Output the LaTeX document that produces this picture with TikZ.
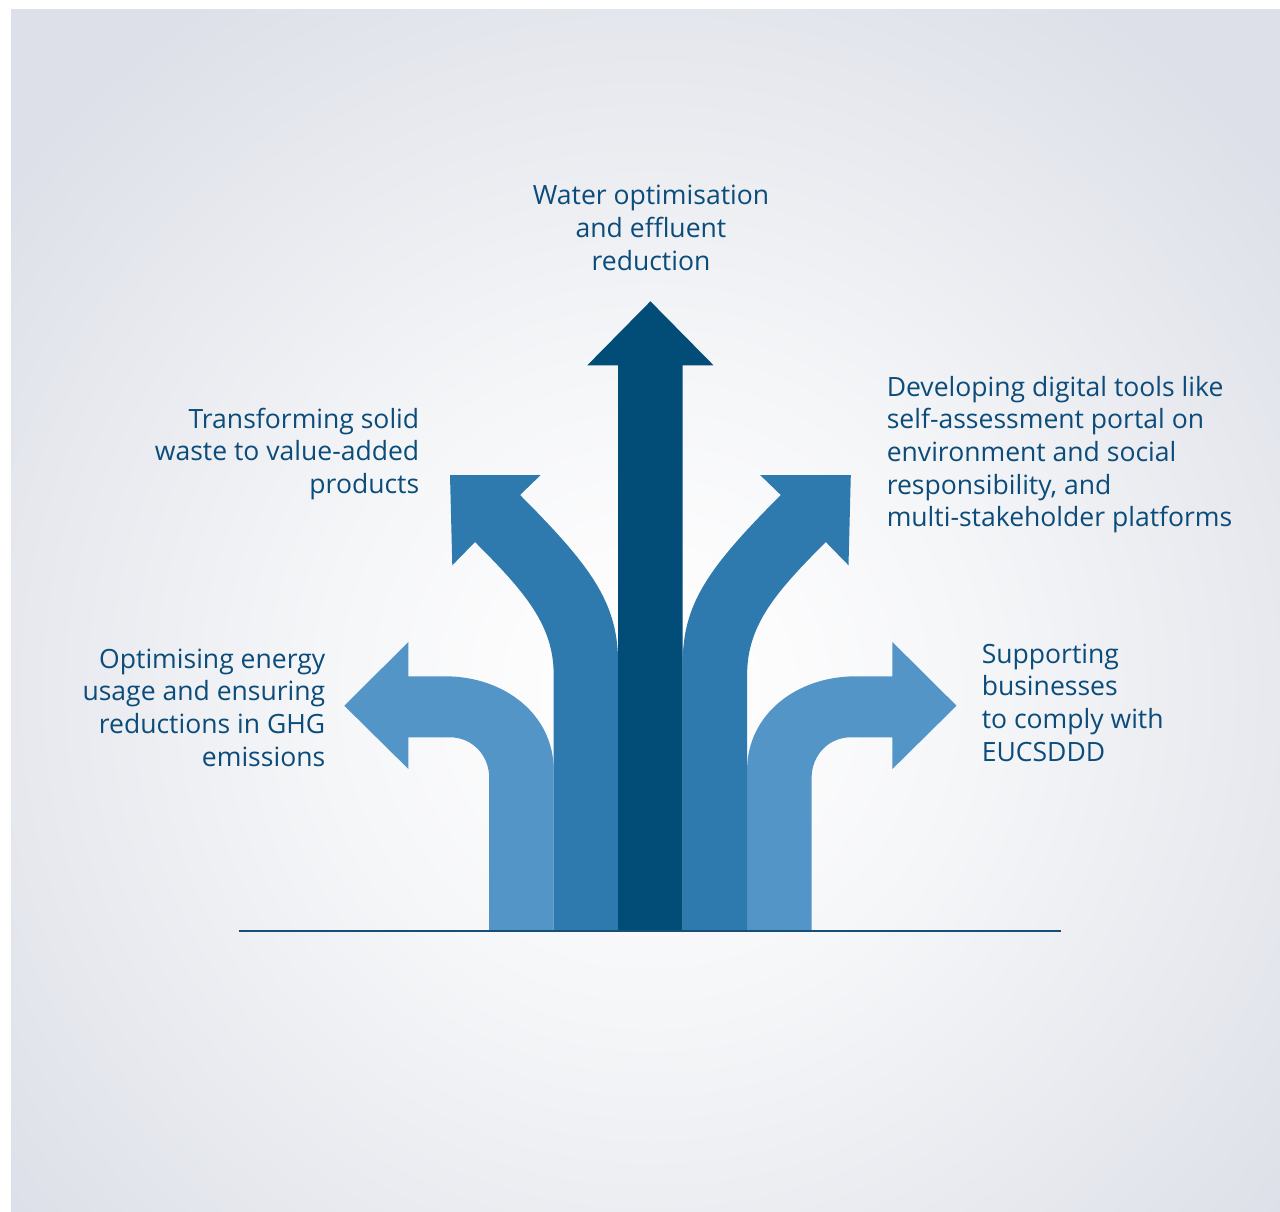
\documentclass[tikz,border=0pt]{standalone}
\usepackage{fontspec}
\setmainfont{Open Sans}

\definecolor{darkarrow}{RGB}{2,77,120}
\definecolor{midarrow}{RGB}{46,121,173}
\definecolor{lightarrow}{RGB}{83,149,199}
\definecolor{txtblue}{RGB}{12,76,122}
\definecolor{lineblue}{RGB}{22,78,122}
\definecolor{bgA}{RGB}{252,252,253}
\definecolor{bgB}{RGB}{245,246,248}
\definecolor{bgC}{RGB}{233,235,240}
\definecolor{bgD}{RGB}{221,224,232}

% soft radial glow for the backdrop (the path's radius sits at 25bp)
\pgfdeclareradialshading{bgglow}{\pgfpointorigin}{%
  color(0bp)=(white); color(3.3bp)=(bgA); color(8.2bp)=(bgB);
  color(14.35bp)=(bgC); color(20.5bp)=(bgD); color(50bp)=(bgD)}

\begin{document}
\begin{tikzpicture}[x=0.75pt,y=-0.75pt,
  txt/.style={inner sep=0pt, text=txtblue,
    font=\fontsize{19.9}{24.5}\selectfont},
  groundline/.style={draw=lineblue, line width=1.2pt}]

\useasboundingbox (0,0) rectangle (1280,1212);
\fill[white] (0,0) rectangle (1280,1212);

% backdrop
\begin{scope}
  \clip (11,10) rectangle (1280,1212);
  \shade[shading=bgglow] (650,690) circle[radius=1000];
\end{scope}

% outer arrows (turning left / right)
\fill[lightarrow] (489.2,931) -- (489.2,778)
  .. controls (489.2,755) and (472,737.3) .. (450,737.3)
  -- (408.4,737.3) -- (408.4,769) -- (344.3,705.7) -- (408.4,642)
  -- (408.4,676.3) -- (445,676.3)
  .. controls (505,676.3) and (553.7,715) .. (553.7,770)
  -- (553.7,931) -- cycle;
\fill[lightarrow] (811.6,931) -- (811.6,778)
  .. controls (811.6,755) and (828.8,737.3) .. (850.8,737.3)
  -- (892.4,737.3) -- (892.4,769) -- (956.5,705.7) -- (892.4,642)
  -- (892.4,676.3) -- (855.8,676.3)
  .. controls (795.8,676.3) and (747.1,715) .. (747.1,770)
  -- (747.1,931) -- cycle;

% diagonal arrows
\fill[midarrow] (450,475) -- (540.7,475) -- (520,495)
  .. controls (595,570) and (618.2,605) .. (618.2,665)
  -- (618.2,931) -- (553.7,931) -- (553.7,675)
  .. controls (553.7,625) and (525,592) .. (475,542)
  -- (452.3,565.3) -- cycle;
\fill[midarrow] (850.8,475) -- (760.1,475) -- (780.8,495)
  .. controls (705.8,570) and (682.6,605) .. (682.6,665)
  -- (682.6,931) -- (747.1,931) -- (747.1,675)
  .. controls (747.1,625) and (775.8,592) .. (825.8,542)
  -- (848.5,565.3) -- cycle;

% straight arrow
\fill[darkarrow] (618.2,931) -- (618.2,365.3) -- (587.3,365.3)
  -- (650.4,301.3) -- (713.5,365.3) -- (682.6,365.3)
  -- (682.6,931) -- cycle;

% ground line
\coordinate (gl) at (239,931);
\coordinate (gr) at (1061,931);
\draw[groundline] (gl) -- (gr);

% captions
\node[txt, anchor=base] (water) at (651,205)
  {\begin{tabular}[t]{@{}c@{}}Water optimisation\\and effluent\\reduction\end{tabular}};
\node[txt, anchor=base east] (waste) at (419.5,428.3)
  {\begin{tabular}[t]{@{}r@{}}Transforming solid\\waste to value-added\\products\end{tabular}};
\node[txt, anchor=base west] (digital) at (886.5,396)
  {\begin{tabular}[t]{@{}l@{}}Developing digital tools like\\self-assessment portal on\\environment and social\\responsibility, and\\multi-stakeholder platforms\end{tabular}};
\node[txt, anchor=base east] (energy) at (325.5,668.3)
  {\begin{tabular}[t]{@{}r@{}}Optimising energy\\usage and ensuring\\reductions in GHG\\emissions\end{tabular}};
\node[txt, anchor=base west] (comply) at (981.5,663.3)
  {\begin{tabular}[t]{@{}l@{}}Supporting\\businesses\\to comply with\\EUCSDDD\end{tabular}};

\end{tikzpicture}
\end{document}
